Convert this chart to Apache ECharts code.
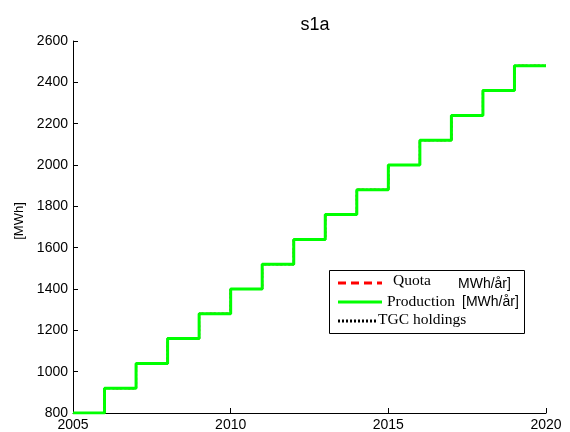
<!DOCTYPE html>
<html>
<head>
<meta charset="utf-8">
<script src="https://cdn.jsdelivr.net/npm/echarts@6/dist/echarts.min.js"></script>
<style>
  html, body { margin: 0; padding: 0; background: #fff; }
  #chart { width: 570px; height: 432px; }
</style>
</head>
<body>
<div id="chart"></div>
<script>
// years where each step starts, plus the end point
const years = [2005, 2006, 2007, 2008, 2009, 2010, 2011, 2012, 2013, 2014, 2015, 2016, 2017, 2018, 2019, 2020];
const quota = [800, 920, 1040, 1160, 1280, 1400, 1520, 1640, 1760, 1880, 2000, 2120, 2240, 2360, 2480, 2480];
const production = [800, 920, 1040, 1160, 1280, 1400, 1520, 1640, 1760, 1880, 2000, 2120, 2240, 2360, 2480, 2480];
const tgcHoldings = [800, 920, 1040, 1160, 1280, 1400, 1520, 1640, 1760, 1880, 2000, 2120, 2240, 2360, 2480, 2480];

const pair = vals => years.map((y, i) => [y, vals[i]]);

const chart = echarts.init(document.getElementById('chart'));
const sans = '"Liberation Sans", Arial, Helvetica, sans-serif';
const serif = '"Liberation Serif", "Times New Roman", serif';

const option = {
  animation: false,
  backgroundColor: '#fff',
  title: {
    text: 's1a',
    left: 310,
    top: 11,
    textAlign: 'center',
    textStyle: { fontFamily: sans, fontSize: 18, fontWeight: 'normal', color: '#000' }
  },
  grid: { left: 73, right: 24, top: 41, bottom: 18 },
  xAxis: {
    type: 'value',
    min: 2005,
    max: 2020,
    interval: 5,
    axisLine: { lineStyle: { color: '#000', width: 1 } },
    axisTick: { inside: true, length: 5, lineStyle: { color: '#000' } },
    axisLabel: { color: '#000', fontFamily: sans, fontSize: 14, margin: 5, formatter: v => String(v) },
    splitLine: { show: false }
  },
  yAxis: {
    type: 'value',
    min: 800,
    max: 2600,
    interval: 200,
    axisLine: { show: true, lineStyle: { color: '#000', width: 1 } },
    axisTick: { show: true, inside: true, length: 5, lineStyle: { color: '#000' } },
    axisLabel: { color: '#000', fontFamily: sans, fontSize: 14, margin: 5, formatter: v => String(v) },
    splitLine: { show: false }
  },
  series: [
    {
      name: 'Quota',
      type: 'line',
      step: 'end',
      symbol: 'none',
      data: pair(quota),
      lineStyle: { color: '#ff0000', width: 2, type: [8, 5] },
      z: 2
    },
    {
      name: 'TGC holdings',
      type: 'line',
      step: 'end',
      symbol: 'none',
      data: pair(tgcHoldings),
      lineStyle: { color: '#000', width: 2, type: [2, 2] },
      z: 3
    },
    {
      name: 'Production',
      type: 'line',
      step: 'end',
      symbol: 'none',
      data: pair(production),
      lineStyle: { color: '#00ff00', width: 3 },
      z: 4
    }
  ],
  graphic: [
    {
      type: 'text',
      x: 19, y: 221,
      rotation: Math.PI / 2,
      style: { text: '[MWh]', fontFamily: sans, fontSize: 13, fill: '#000', align: 'center', verticalAlign: 'middle' }
    },
    {
      type: 'rect',
      shape: { x: 329.5, y: 270.5, width: 195, height: 63 },
      style: { fill: '#fff', stroke: '#000', lineWidth: 1 },
      z: 100
    },
    {
      type: 'line',
      shape: { x1: 338, y1: 283, x2: 382, y2: 283 },
      style: { stroke: '#ff0000', lineWidth: 3, lineDash: [8, 5] },
      z: 101
    },
    {
      type: 'line',
      shape: { x1: 338, y1: 302, x2: 382, y2: 302 },
      style: { stroke: '#00ff00', lineWidth: 3 },
      z: 101
    },
    {
      type: 'line',
      shape: { x1: 338, y1: 321, x2: 377, y2: 321 },
      style: { stroke: '#000', lineWidth: 3, lineDash: [2, 2] },
      z: 101
    },
    {
      type: 'text', x: 393, y: 281, z: 101,
      style: { text: 'Quota', fontFamily: serif, fontSize: 15.5, fill: '#000', verticalAlign: 'middle' }
    },
    {
      type: 'text', x: 458, y: 284, z: 101,
      style: { text: 'MWh/år]', fontFamily: sans, fontSize: 14, fill: '#000', verticalAlign: 'middle' }
    },
    {
      type: 'text', x: 387, y: 302, z: 101,
      style: { text: 'Production', fontFamily: serif, fontSize: 15.5, fill: '#000', verticalAlign: 'middle' }
    },
    {
      type: 'text', x: 462, y: 302, z: 101,
      style: { text: '[MWh/år]', fontFamily: sans, fontSize: 14, fill: '#000', verticalAlign: 'middle' }
    },
    {
      type: 'text', x: 378, y: 320, z: 101,
      style: { text: 'TGC holdings', fontFamily: serif, fontSize: 15.5, fill: '#000', verticalAlign: 'middle' }
    }
  ]
};

chart.setOption(option);
</script>
</body>
</html>
